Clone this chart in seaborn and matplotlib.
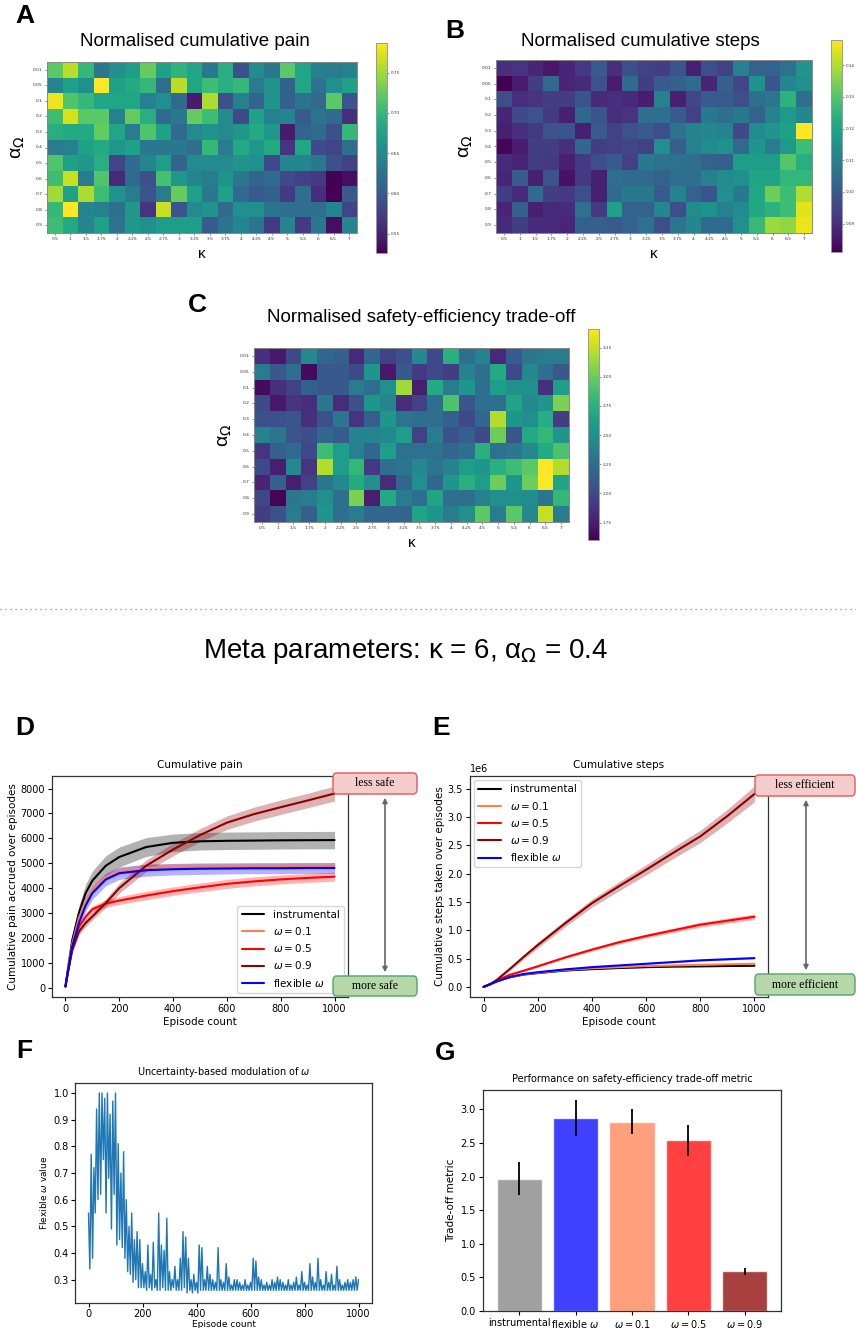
import numpy as np
import pandas as pd
import matplotlib
matplotlib.use("Agg")
import matplotlib.pyplot as plt
import seaborn as sns
from matplotlib.patches import FancyBboxPatch, FancyArrowPatch
from matplotlib.lines import Line2D

# ---------------- data ----------------
KAPPA_LABELS = ['0.5', '1', '1.5', '1.75', '2', '2.25', '2.5', '2.75', '3', '3.25',
                '3.5', '3.75', '4', '4.25', '4.5', '5', '5.5', '6', '6.5', '7']
ALPHA_LABELS = ['0.01', '0.05', '0.1', '0.2', '0.3', '0.4', '0.5', '0.6', '0.7', '0.8', '0.9']

PAIN = [
    [0.72, 0.76, 0.70, 0.63, 0.655, 0.67, 0.725, 0.675, 0.695, 0.68, 0.63, 0.69, 0.59, 0.65, 0.63, 0.72, 0.68, 0.64, 0.635, 0.64],
    [0.645, 0.675, 0.655, 0.785, 0.675, 0.685, 0.70, 0.62, 0.76, 0.68, 0.705, 0.69, 0.70, 0.635, 0.66, 0.605, 0.68, 0.625, 0.655, 0.675],
    [0.78, 0.715, 0.70, 0.68, 0.68, 0.68, 0.64, 0.655, 0.615, 0.545, 0.755, 0.59, 0.64, 0.61, 0.66, 0.605, 0.625, 0.615, 0.72, 0.595],
    [0.705, 0.77, 0.72, 0.72, 0.64, 0.725, 0.69, 0.615, 0.63, 0.725, 0.705, 0.65, 0.585, 0.675, 0.64, 0.645, 0.60, 0.625, 0.615, 0.56],
    [0.69, 0.685, 0.685, 0.725, 0.68, 0.635, 0.715, 0.675, 0.615, 0.65, 0.66, 0.65, 0.665, 0.685, 0.665, 0.545, 0.61, 0.615, 0.59, 0.70],
    [0.635, 0.64, 0.675, 0.685, 0.665, 0.675, 0.63, 0.63, 0.63, 0.62, 0.70, 0.635, 0.685, 0.665, 0.685, 0.565, 0.68, 0.585, 0.58, 0.62],
    [0.715, 0.675, 0.665, 0.69, 0.58, 0.615, 0.645, 0.67, 0.61, 0.65, 0.65, 0.65, 0.66, 0.655, 0.585, 0.645, 0.645, 0.63, 0.59, 0.575],
    [0.705, 0.765, 0.635, 0.715, 0.555, 0.615, 0.59, 0.71, 0.665, 0.645, 0.635, 0.66, 0.63, 0.61, 0.615, 0.585, 0.575, 0.57, 0.528, 0.535],
    [0.75, 0.675, 0.755, 0.705, 0.66, 0.635, 0.595, 0.635, 0.725, 0.675, 0.63, 0.675, 0.615, 0.60, 0.605, 0.57, 0.62, 0.56, 0.527, 0.60],
    [0.70, 0.787, 0.645, 0.64, 0.62, 0.665, 0.565, 0.765, 0.595, 0.65, 0.66, 0.615, 0.655, 0.655, 0.625, 0.62, 0.62, 0.62, 0.645, 0.58],
    [0.705, 0.685, 0.645, 0.675, 0.625, 0.665, 0.655, 0.67, 0.67, 0.67, 0.60, 0.625, 0.645, 0.625, 0.57, 0.645, 0.57, 0.63, 0.535, 0.645],
]

STEPS = [
    [0.090, 0.091, 0.088, 0.085, 0.088, 0.092, 0.100, 0.090, 0.097, 0.094, 0.093, 0.099, 0.087, 0.097, 0.094, 0.110, 0.102, 0.102, 0.106, 0.116],
    [0.081, 0.086, 0.093, 0.104, 0.088, 0.089, 0.098, 0.086, 0.104, 0.093, 0.100, 0.101, 0.104, 0.088, 0.101, 0.095, 0.115, 0.099, 0.112, 0.114],
    [0.097, 0.090, 0.091, 0.093, 0.093, 0.099, 0.089, 0.090, 0.089, 0.086, 0.110, 0.087, 0.095, 0.100, 0.100, 0.097, 0.105, 0.107, 0.124, 0.105],
    [0.088, 0.096, 0.098, 0.092, 0.087, 0.103, 0.099, 0.090, 0.091, 0.105, 0.105, 0.100, 0.094, 0.108, 0.105, 0.108, 0.102, 0.111, 0.117, 0.112],
    [0.087, 0.090, 0.092, 0.098, 0.099, 0.087, 0.100, 0.094, 0.098, 0.100, 0.097, 0.106, 0.111, 0.112, 0.111, 0.096, 0.113, 0.116, 0.119, 0.148],
    [0.082, 0.086, 0.093, 0.093, 0.090, 0.103, 0.093, 0.094, 0.095, 0.094, 0.114, 0.101, 0.110, 0.113, 0.115, 0.104, 0.116, 0.109, 0.117, 0.127],
    [0.089, 0.088, 0.093, 0.092, 0.087, 0.092, 0.097, 0.100, 0.094, 0.108, 0.106, 0.106, 0.105, 0.102, 0.101, 0.118, 0.118, 0.118, 0.130, 0.123],
    [0.088, 0.100, 0.087, 0.098, 0.084, 0.092, 0.087, 0.105, 0.104, 0.104, 0.102, 0.105, 0.105, 0.110, 0.113, 0.114, 0.120, 0.120, 0.125, 0.125],
    [0.093, 0.089, 0.104, 0.093, 0.092, 0.097, 0.087, 0.104, 0.108, 0.108, 0.100, 0.111, 0.102, 0.099, 0.114, 0.108, 0.121, 0.133, 0.127, 0.140],
    [0.088, 0.101, 0.087, 0.089, 0.089, 0.106, 0.092, 0.119, 0.102, 0.102, 0.112, 0.097, 0.113, 0.115, 0.110, 0.113, 0.121, 0.124, 0.127, 0.145],
    [0.089, 0.093, 0.089, 0.089, 0.088, 0.101, 0.101, 0.100, 0.102, 0.106, 0.097, 0.107, 0.112, 0.104, 0.104, 0.114, 0.126, 0.138, 0.137, 0.146],
]

TRADE = [
    [1.85, 1.72, 2.00, 2.45, 2.20, 2.15, 1.80, 2.20, 1.95, 2.05, 2.45, 2.00, 2.75, 2.25, 2.40, 1.80, 2.12, 2.32, 2.35, 2.35],
    [2.35, 2.10, 2.25, 1.65, 2.10, 2.10, 2.00, 2.55, 1.72, 2.10, 1.90, 2.00, 1.92, 2.40, 2.25, 2.70, 2.00, 2.45, 2.25, 2.10],
    [1.65, 1.85, 1.95, 2.15, 2.10, 2.10, 2.35, 2.25, 2.50, 3.15, 1.75, 2.70, 2.35, 2.55, 2.25, 2.60, 2.50, 2.50, 1.85, 2.60],
    [2.00, 1.72, 1.88, 1.83, 2.32, 1.82, 2.05, 2.55, 2.42, 1.82, 1.95, 2.25, 2.90, 2.08, 2.25, 2.25, 2.65, 2.45, 2.55, 3.05],
    [2.05, 2.05, 2.08, 1.85, 2.05, 2.30, 1.88, 2.15, 2.55, 2.30, 2.25, 2.25, 2.15, 2.00, 2.20, 3.20, 2.55, 2.50, 2.72, 1.92],
    [2.40, 2.30, 2.08, 2.02, 2.20, 2.12, 2.40, 2.42, 2.45, 2.60, 1.95, 2.35, 2.05, 2.15, 2.00, 3.00, 2.08, 2.70, 2.80, 2.55],
    [1.88, 2.15, 2.22, 2.00, 2.85, 2.60, 2.38, 2.20, 2.60, 2.28, 2.28, 2.28, 2.20, 2.25, 2.75, 2.28, 2.32, 2.45, 2.70, 2.90],
    [2.00, 1.75, 2.45, 1.88, 3.20, 2.60, 2.80, 1.90, 2.25, 2.30, 2.45, 2.30, 2.40, 2.60, 2.55, 2.75, 2.85, 2.95, 3.40, 3.20],
    [1.78, 2.15, 1.75, 1.95, 2.30, 2.45, 2.70, 2.50, 1.82, 2.20, 2.50, 2.20, 2.55, 2.75, 2.60, 3.00, 2.55, 3.00, 3.40, 2.65],
    [1.98, 1.62, 2.32, 2.35, 2.50, 2.25, 3.05, 1.75, 2.70, 2.35, 2.25, 2.65, 2.25, 2.25, 2.40, 2.50, 2.50, 2.48, 2.30, 2.80],
    [1.92, 2.05, 2.35, 2.15, 2.55, 2.25, 2.35, 2.20, 2.20, 2.18, 2.65, 2.55, 2.35, 2.50, 2.95, 2.35, 2.95, 2.45, 3.25, 2.35],
]

SERIES_LABELS = ['instrumental', r'$\omega = 0.1$', r'$\omega = 0.5$', r'$\omega = 0.9$', r'flexible $\omega$']
EPISODES = [0, 10, 25, 50, 75, 100, 150, 200, 300, 400, 500, 600, 700, 800, 900, 1000]

PAIN_MEAN = [
    [50, 800, 1900, 3000, 3800, 4300, 4900, 5250, 5650, 5820, 5880, 5900, 5910, 5920, 5925, 5930],
    [50, 750, 1750, 2800, 3500, 3950, 4450, 4680, 4820, 4860, 4870, 4880, 4880, 4890, 4890, 4900],
    [50, 700, 1600, 2450, 2850, 3150, 3380, 3500, 3700, 3880, 4030, 4170, 4270, 4350, 4410, 4460],
    [50, 650, 1500, 2250, 2600, 2860, 3400, 4000, 4900, 5550, 6130, 6630, 6970, 7250, 7520, 7800],
    [50, 700, 1650, 2600, 3300, 3800, 4350, 4600, 4720, 4760, 4780, 4790, 4800, 4800, 4810, 4810],
]
PAIN_ERR = [
    [20, 100, 200, 300, 350, 380, 400, 400, 380, 350, 350, 350, 350, 350, 350, 350],
    [10, 60, 100, 120, 130, 140, 140, 140, 140, 130, 130, 130, 130, 130, 130, 130],
    [10, 50, 80, 100, 120, 130, 150, 160, 170, 170, 175, 180, 180, 180, 180, 180],
    [10, 60, 100, 130, 150, 150, 170, 200, 230, 250, 260, 270, 280, 290, 290, 300],
    [10, 80, 150, 200, 230, 250, 250, 250, 240, 230, 230, 220, 220, 220, 220, 220],
]

STEPS_MEAN = [
    [0, 0.02, 0.05, 0.10, 0.14, 0.175, 0.22, 0.245, 0.29, 0.315, 0.335, 0.35, 0.36, 0.365, 0.37, 0.375],
    [0, 0.02, 0.05, 0.10, 0.14, 0.18, 0.225, 0.25, 0.30, 0.33, 0.35, 0.37, 0.38, 0.39, 0.40, 0.41],
    [0, 0.02, 0.05, 0.11, 0.17, 0.22, 0.29, 0.365, 0.52, 0.66, 0.79, 0.90, 1.00, 1.10, 1.17, 1.24],
    [0, 0.02, 0.05, 0.13, 0.23, 0.33, 0.54, 0.74, 1.12, 1.48, 1.78, 2.07, 2.37, 2.66, 3.02, 3.41],
    [0, 0.02, 0.05, 0.10, 0.14, 0.18, 0.23, 0.26, 0.31, 0.35, 0.38, 0.41, 0.44, 0.47, 0.49, 0.51],
]
STEPS_ERR = [
    [0, 0.002, 0.003, 0.004, 0.005, 0.006, 0.006, 0.007, 0.007, 0.008, 0.008, 0.008, 0.008, 0.008, 0.008, 0.008],
    [0, 0.002, 0.003, 0.004, 0.005, 0.006, 0.006, 0.007, 0.007, 0.008, 0.008, 0.008, 0.009, 0.009, 0.009, 0.009],
    [0, 0.003, 0.005, 0.008, 0.01, 0.012, 0.015, 0.018, 0.022, 0.027, 0.031, 0.035, 0.039, 0.043, 0.047, 0.05],
    [0, 0.005, 0.01, 0.02, 0.03, 0.03, 0.04, 0.05, 0.06, 0.07, 0.08, 0.09, 0.10, 0.11, 0.12, 0.14],
    [0, 0.002, 0.003, 0.004, 0.005, 0.006, 0.006, 0.007, 0.008, 0.009, 0.010, 0.011, 0.012, 0.013, 0.014, 0.015],
]

F_EPISODES = list(range(0, 1001, 5))
F_OMEGA = [
    0.55, 0.34, 0.77, 0.38, 0.72, 0.55, 0.94, 0.60, 1.00, 0.62,
    1.00, 0.75, 0.98, 0.55, 1.00, 0.68, 0.92, 0.49, 0.97, 0.62,
    1.00, 0.43, 0.81, 0.45, 0.70, 0.42, 0.78, 0.38, 0.60, 0.33,
    0.50, 0.32, 0.55, 0.29, 0.45, 0.30, 0.48, 0.27, 0.45, 0.27,
    0.36, 0.27, 0.33, 0.26, 0.43, 0.27, 0.32, 0.26, 0.44, 0.27,
    0.30, 0.26, 0.55, 0.26, 0.43, 0.27, 0.41, 0.26, 0.53, 0.26,
    0.33, 0.26, 0.30, 0.27, 0.35, 0.26, 0.30, 0.26, 0.38, 0.26,
    0.48, 0.27, 0.46, 0.25, 0.38, 0.26, 0.30, 0.25, 0.32, 0.26,
    0.29, 0.25, 0.43, 0.26, 0.42, 0.26, 0.30, 0.26, 0.35, 0.26,
    0.32, 0.26, 0.30, 0.26, 0.29, 0.26, 0.42, 0.26, 0.30, 0.26,
    0.29, 0.26, 0.36, 0.26, 0.31, 0.26, 0.28, 0.26, 0.30, 0.26,
    0.30, 0.26, 0.29, 0.26, 0.28, 0.26, 0.30, 0.26, 0.28, 0.26,
    0.29, 0.26, 0.38, 0.26, 0.37, 0.26, 0.31, 0.26, 0.30, 0.26,
    0.28, 0.26, 0.29, 0.26, 0.28, 0.26, 0.30, 0.26, 0.29, 0.26,
    0.31, 0.26, 0.30, 0.26, 0.29, 0.26, 0.28, 0.26, 0.30, 0.26,
    0.28, 0.26, 0.29, 0.26, 0.31, 0.26, 0.28, 0.26, 0.33, 0.26,
    0.29, 0.26, 0.28, 0.26, 0.36, 0.26, 0.31, 0.26, 0.29, 0.26,
    0.38, 0.26, 0.30, 0.26, 0.28, 0.26, 0.33, 0.26, 0.29, 0.26,
    0.32, 0.26, 0.28, 0.26, 0.35, 0.26, 0.30, 0.26, 0.28, 0.26,
    0.29, 0.26, 0.30, 0.26, 0.29, 0.26, 0.30, 0.26, 0.31, 0.26,
    0.30,
]

G_LABELS = ['instrumental', r'flexible $\omega$', r'$\omega = 0.1$', r'$\omega = 0.5$', r'$\omega = 0.9$']
G_VALUES = [1.97, 2.87, 2.82, 2.54, 0.59]
G_ERR = [0.245, 0.265, 0.19, 0.23, 0.05]

# ---------------- style ----------------
LINE_COLORS = ['black', 'coral', 'red', 'darkred', 'blue']
BAR_COLORS = ['grey', 'blue', 'coral', 'red', 'darkred']

sns.set_style("ticks")
plt.rcParams['font.family'] = ['DejaVu Sans']
plt.rcParams['font.size'] = 7
plt.rcParams['axes.edgecolor'] = '#333333'
plt.rcParams['axes.linewidth'] = 0.9
for k in ['text.color', 'axes.labelcolor', 'xtick.color', 'ytick.color']:
    plt.rcParams[k] = 'black'

W, H = 856, 1328
fig = plt.figure(figsize=(W / 100, H / 100), dpi=100)


def rect(x0, y0, x1, y1):
    return [x0 / W, 1 - y1 / H, (x1 - x0) / W, (y1 - y0) / H]


def ftxt(x, y, s, **kw):
    fig.text(x / W, 1 - y / H, s, **kw)


SANS = ['Liberation Sans', 'DejaVu Sans']


def heat(data, ax_r, cax_r, vmin, vmax, ticks, ticklabels):
    ax = fig.add_axes(rect(*ax_r))
    cax = fig.add_axes(rect(*cax_r))
    df = pd.DataFrame(data, index=ALPHA_LABELS, columns=KAPPA_LABELS)
    sns.heatmap(df, ax=ax, cbar_ax=cax, cmap='viridis', vmin=vmin, vmax=vmax,
                cbar_kws={'ticks': ticks})
    ax.set_xticklabels(KAPPA_LABELS, rotation=0, fontsize=3.2)
    ax.set_yticklabels(ALPHA_LABELS, rotation=0, fontsize=3.2)
    ax.tick_params(length=1.5, width=0.4, pad=1.5, colors='#333333')
    for sp in ax.spines.values():
        sp.set_visible(True)
        sp.set_color('#888888')
        sp.set_linewidth(0.7)
    ax.set_xlabel('κ', fontsize=11, family=SANS)
    ax.set_ylabel(r'α$_{\mathrm{Ω}}$', fontsize=14, family=SANS)
    ax.xaxis.set_label_coords(0.5, -0.08)
    ax.yaxis.set_label_coords(-0.065, 0.5)
    cax.set_yticks(ticks)
    cax.set_yticklabels(ticklabels, fontsize=3)
    cax.tick_params(length=1.5, width=0.4, pad=1.2, colors='#333333')
    cb = ax.collections[0].colorbar
    cb.outline.set_edgecolor('#999999')
    cb.outline.set_linewidth(0.7)
    return ax


heat(PAIN, (47, 62, 357, 233), (376, 43, 387, 253), 0.526, 0.787,
     [0.55, 0.60, 0.65, 0.70, 0.75], ['0.55', '0.60', '0.65', '0.70', '0.75'])
heat(STEPS, (496, 60, 812, 233), (831, 40, 842, 252), 0.081, 0.148,
     [0.09, 0.10, 0.11, 0.12, 0.13, 0.14], ['0.09', '0.10', '0.11', '0.12', '0.13', '0.14'])
heat(TRADE, (254, 348, 569, 522), (588, 329, 599, 540), 1.60, 3.41,
     [1.75, 2.0, 2.25, 2.5, 2.75, 3.0, 3.25], ['1.75', '2.00', '2.25', '2.50', '2.75', '3.00', '3.25'])

ftxt(195, 41, 'Normalised cumulative pain', fontsize=13.5, family=SANS, ha='center', va='center')
ftxt(640, 41, 'Normalised cumulative steps', fontsize=13.5, family=SANS, ha='center', va='center')
ftxt(421, 317, 'Normalised safety-efficiency trade-off', fontsize=13.5, family=SANS, ha='center', va='center')

for (x, y, s) in [(25, 16, 'A'), (455, 31, 'B'), (197, 305, 'C'), (25, 728, 'D'),
                  (441, 728, 'E'), (24, 1051, 'F'), (445, 1053, 'G')]:
    ftxt(x, y, s, fontsize=19, fontweight='bold', family=SANS, ha='center', va='center')

fig.add_artist(Line2D([0, 1], [1 - 609 / H] * 2, transform=fig.transFigure,
                      ls=(0, (1, 3)), color='#888888', lw=0.9))
ftxt(405, 652, r'Meta parameters: κ = 6, α$_{\mathrm{Ω}}$ = 0.4', fontsize=20,
     family=SANS, ha='center', va='center')


def curves(ax, means, errs, scale=1.0):
    for lab, col, m, e in zip(SERIES_LABELS, LINE_COLORS, means, errs):
        m = np.array(m) * scale
        e = np.array(e) * scale
        sns.lineplot(x=EPISODES, y=m, ax=ax, color=col, lw=1.5, label=lab)
        ax.fill_between(EPISODES, m - e, m + e, color=col, alpha=0.3, lw=0)


# D
axD = fig.add_axes(rect(52, 776, 348, 997))
curves(axD, PAIN_MEAN, PAIN_ERR)
axD.set_title('Cumulative pain', fontsize=7.5)
axD.set_xlabel('Episode count', fontsize=7.5, labelpad=2)
axD.set_ylabel('Cumulative pain accrued over episodes', fontsize=7.5, labelpad=2)
axD.legend(loc='lower right', fontsize=7.5, handlelength=2.2, borderaxespad=0.4)
axD.tick_params(labelsize=7, length=3, pad=2)

# E
axE = fig.add_axes(rect(470, 776, 768, 997))
curves(axE, STEPS_MEAN, STEPS_ERR, scale=1e6)
axE.set_title('Cumulative steps', fontsize=7.5)
axE.set_xlabel('Episode count', fontsize=7.5, labelpad=2)
axE.set_ylabel('Cumulative steps taken over episodes', fontsize=7.5, labelpad=2)
axE.legend(loc='upper left', fontsize=7.5, handlelength=2.2, borderaxespad=0.4)
axE.tick_params(labelsize=7, length=3, pad=2)
axE.yaxis.get_offset_text().set_fontsize(7)


def box(x0, y0, x1, y1, s, fc, ec):
    p = FancyBboxPatch((x0 / W, 1 - y1 / H), (x1 - x0) / W, (y1 - y0) / H,
                       boxstyle='round,pad=0,rounding_size=0.004',
                       transform=fig.transFigure, fc=fc, ec=ec, lw=1.1, zorder=5)
    fig.add_artist(p)
    ftxt((x0 + x1) / 2, (y0 + y1) / 2, s, fontsize=8.5, family=['Liberation Serif'],
         ha='center', va='center', zorder=6)


def arrow(x, y0, y1):
    a = FancyArrowPatch((x / W, 1 - y0 / H), (x / W, 1 - y1 / H), arrowstyle='<|-|>',
                        mutation_scale=7, color='#666666', lw=1.2,
                        transform=fig.transFigure, zorder=5)
    fig.add_artist(a)


PINK, PINK_E = '#f4cccc', '#e06666'
GREEN, GREEN_E = '#b6d7a8', '#5fa876'
box(333, 773, 417, 794, 'less safe', PINK, PINK_E)
box(333, 976, 417, 996, 'more safe', GREEN, GREEN_E)
arrow(385, 795, 975)
box(755, 775, 855, 796, 'less efficient', PINK, PINK_E)
box(755, 974, 855, 995, 'more efficient', GREEN, GREEN_E)
arrow(806, 797, 973)

# F
axF = fig.add_axes(rect(75, 1083, 372, 1303))
sns.lineplot(x=F_EPISODES, y=F_OMEGA, ax=axF, color='#1f77b4', lw=1.0)
axF.set_title(r'Uncertainty-based modulation of $\omega$', fontsize=7)
axF.set_xlabel('Episode count', fontsize=6.5, labelpad=0.5)
axF.set_ylabel(r'Flexible $\omega$ value', fontsize=6.5, labelpad=3)
axF.tick_params(labelsize=7, length=3, pad=1.5)

# G
axG = fig.add_axes(rect(483, 1090, 781, 1311))
sns.barplot(x=G_LABELS, y=G_VALUES, hue=G_LABELS, palette=BAR_COLORS, alpha=0.75,
            saturation=1, ax=axG, legend=False, width=0.8)
axG.errorbar(x=list(range(len(G_LABELS))), y=G_VALUES, yerr=G_ERR, fmt='none',
             ecolor='black', elinewidth=1.3, capsize=0)
axG.set_xlim(-0.64, len(G_LABELS) - 0.36)
axG.set_ylim(0, 3.29)
axG.set_title('Performance on safety-efficiency trade-off metric', fontsize=7)
axG.set_ylabel('Trade-off metric', fontsize=7.5, labelpad=3)
axG.tick_params(labelsize=7, length=3, pad=2)

fig.savefig('out.png', dpi=100)
